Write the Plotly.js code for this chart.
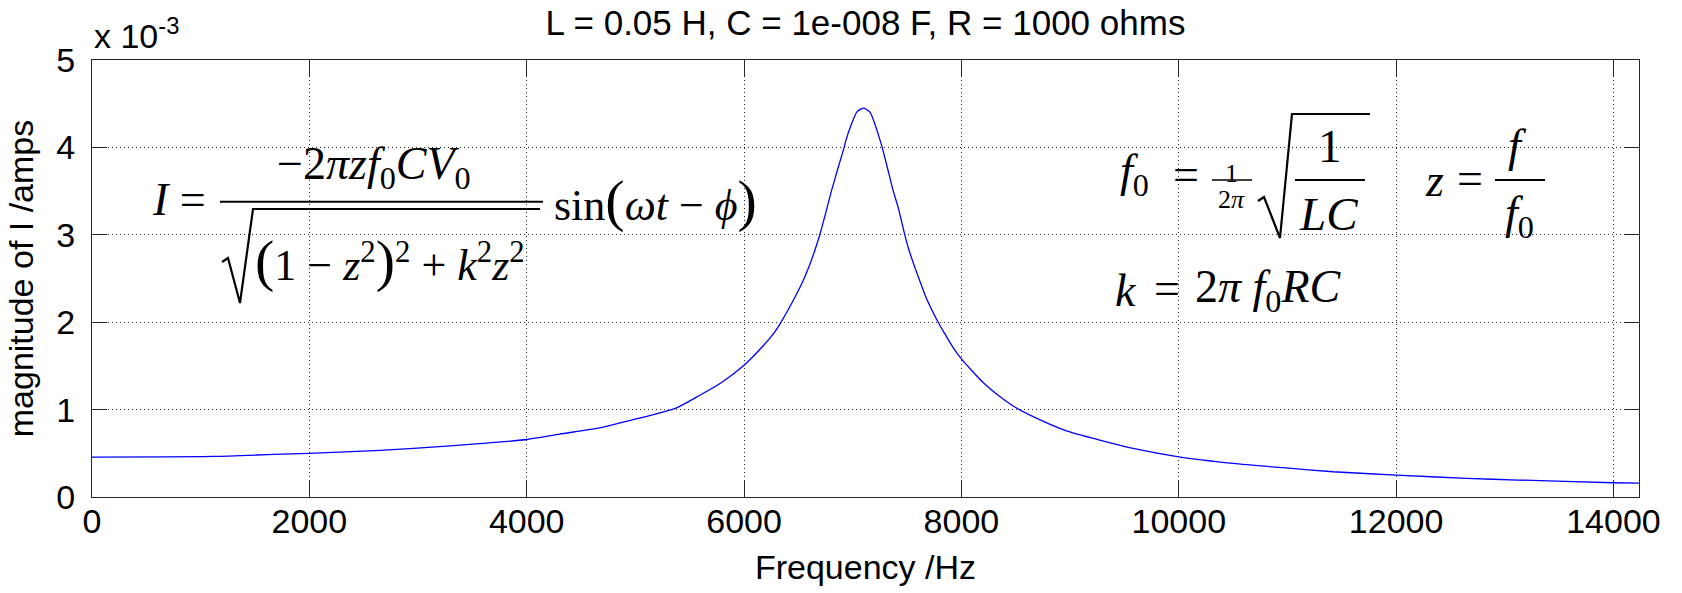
<!DOCTYPE html>
<html>
<head>
<meta charset="utf-8">
<script src="https://cdn.plot.ly/plotly-3.0.1.min.js"></script>
<style>
html,body{margin:0;padding:0;background:#fff;}
#chart{width:1682px;height:593px;}
</style>
</head>
<body>
<div id="chart"></div>
<script>
// ---- data ----
const frequencyHz = [0, 1116, 1668, 2000, 2650, 3263, 4000, 4305, 4673, 4834,
  5361, 5593, 5793, 6000, 6176, 6283, 6345, 6474, 6538, 6599,
  6651, 6697, 6765, 6805, 6857, 6921, 6936, 6989, 7040, 7100,
  7160, 7203, 7252, 7271, 7326, 7372, 7418, 7479, 7519, 7571,
  7627, 7679, 7777, 7841, 7924, 8000, 8200, 8353, 8491, 8660,
  8967, 9273, 9580, 10000, 10500, 10960, 11420, 12000, 12647, 13122,
  14000, 14235];
// magnitude of I, in units of 10^-3 A (axis multiplier "x 10^-3")
const currentE3 = [0.457, 0.464, 0.487, 0.499, 0.533, 0.582, 0.658, 0.72, 0.791, 0.84,
  1.01, 1.164, 1.31, 1.507, 1.73, 1.89, 2.01, 2.30, 2.46, 2.64,
  2.82, 3.00, 3.314, 3.505, 3.733, 4.00, 4.075, 4.27, 4.41, 4.45,
  4.40, 4.27, 4.08, 4.00, 3.733, 3.505, 3.314, 3.00, 2.82, 2.63,
  2.44, 2.27, 2.02, 1.88, 1.71, 1.58, 1.31, 1.15, 1.03, 0.92,
  0.757, 0.651, 0.556, 0.46, 0.385, 0.335, 0.289, 0.251, 0.213, 0.194,
  0.163, 0.158];
const xTickVals = [0, 2000, 4000, 6000, 8000, 10000, 12000, 14000];
const xTickText = ['0', '2000', '4000', '6000', '8000', '10000', '12000', '14000'];
const yTickVals = [0, 1, 2, 3, 4, 5];
const yTickText = ['0', '1', '2', '3', '4', '5'];
const xRange = [0, 14235];
const yRange = [0, 5];
const chartTitle = 'L = 0.05 H, C = 1e-008 F, R = 1000 ohms';
const xLabel = 'Frequency /Hz';
const yLabel = 'magnitude of I /amps';
const yMultiplier = 'x 10<sup>-3</sup>';

// ---- layout helpers ----
const W = 1682, H = 593;
const M = {l: 92, r: 43, t: 60, b: 96};
const PW = W - M.l - M.r;
const PH = H - M.t - M.b;
const X = px => (px - M.l) / PW;
const Y = py => (H - M.b - py) / PH;
const SERIF = 'Liberation Serif, Times New Roman, serif';
const SANS = 'Liberation Sans, Arial, Helvetica, sans-serif';
const AX = '#262626';

function txt(text, x, baseline, size, anchor, family) {
  return {text: text, xref: 'paper', yref: 'paper', x: X(x), y: Y(baseline - 0.34 * size),
    xanchor: anchor || 'left', yanchor: 'middle', showarrow: false,
    font: {family: family || SERIF, size: size, color: '#000'}};
}
function seg(x0, y0, x1, y1, w) {
  return {type: 'line', xref: 'paper', yref: 'paper', x0: X(x0), y0: Y(y0), x1: X(x1), y1: Y(y1),
    line: {color: '#000', width: w || 2}};
}
function poly(pts, w) {
  const d = pts.map((p, i) => (i ? 'L' : 'M') + X(p[0]) + ',' + Y(p[1])).join(' ');
  return {type: 'path', xref: 'paper', yref: 'paper', path: d, line: {color: '#000', width: w || 2}};
}

const BIG = '<span style="font-size:58px">';

const annotations = [
  txt(yMultiplier, 92, 45, 34, 'left', SANS),
  // main current equation
  txt('<i>I</i> =', 150, 215, 46, 'left'),
  txt('−2<i>πzf</i><sub>0</sub><i>CV</i><sub>0</sub>', 374, 183, 46, 'center'),
  txt(BIG + '(</span>1 − <i>z</i><sup>2</sup>' + BIG + ')</span><sup>2</sup> + <i>k</i><sup>2</sup><i>z</i><sup>2</sup>', 390, 275, 44, 'center'),
  txt('sin' + BIG + '(</span><i>ωt</i> − <i>ϕ</i>' + BIG + ')</span>', 552, 215, 44, 'left'),
  // f0 definition
  txt('<i>f</i><sub>0</sub>', 1118, 190, 46, 'left'),
  txt('=', 1186, 190, 46, 'center'),
  txt('1', 1231, 182, 26, 'center'),
  txt('2<i>π</i>', 1231, 208, 26, 'center'),
  txt('1', 1330, 162, 47, 'center'),
  txt('<i>LC</i>', 1328, 230, 47, 'center'),
  // z definition
  txt('<i>z</i>', 1434, 196, 46, 'center'),
  txt('=', 1470, 194, 46, 'center'),
  txt('<i>f</i>', 1517, 161, 46, 'center'),
  txt('<i>f</i><sub>0</sub>', 1519, 232, 46, 'center'),
  // k definition
  txt('<i>k</i>', 1126, 306, 46, 'center'),
  txt('=', 1167, 304, 46, 'center'),
  txt('2<i>π f</i><sub>0</sub><i>RC</i>', 1193, 306, 46, 'left')
];

const shapes = [
  seg(220, 201.7, 543, 201.7, 2),
  poly([[222, 262], [228, 258], [240, 303], [253, 209], [540, 209]], 2.2),
  seg(1212, 180, 1252, 180, 1.3),
  poly([[1258, 201], [1264, 197], [1280, 238], [1292, 114], [1370, 114]], 2.2),
  seg(1295, 180, 1365, 180, 2),
  seg(1495, 180, 1545, 180, 2)
];

const trace = {
  x: frequencyHz, y: currentE3, type: 'scatter', mode: 'lines',
  line: {color: 'rgb(0,0,255)', width: 1.3, shape: 'spline', smoothing: 0.6},
  hoverinfo: 'skip', showlegend: false
};

const axisCommon = {
  ticks: 'inside', tickwidth: 1, tickcolor: AX,
  showline: true, linecolor: AX, linewidth: 1, mirror: 'allticks',
  showgrid: true, gridcolor: AX, gridwidth: 1, griddash: '1px,3px',
  zeroline: false, automargin: false,
  tickfont: {family: SANS, size: 34, color: '#000'}
};

const layout = {
  width: W, height: H,
  margin: M,
  paper_bgcolor: '#fff', plot_bgcolor: '#fff',
  showlegend: false,
  title: {text: chartTitle, font: {family: SANS, size: 35, color: '#000'},
    x: 0.5, xref: 'paper', xanchor: 'center', y: 1 - 23 / H, yref: 'container', yanchor: 'middle'},
  xaxis: Object.assign({}, axisCommon, {
    range: xRange, tickmode: 'array', tickvals: xTickVals, ticktext: xTickText,
    ticklen: 16, ticklabelstandoff: -6,
    title: {text: xLabel, font: {family: SANS, size: 34, color: '#000'}, standoff: 16}
  }),
  yaxis: Object.assign({}, axisCommon, {
    range: yRange, tickmode: 'array', tickvals: yTickVals, ticktext: yTickText,
    ticklen: 15, ticklabelstandoff: 9,
    title: {text: yLabel, font: {family: SANS, size: 34, color: '#000'}, standoff: 12}
  }),
  annotations: annotations,
  shapes: shapes
};

Plotly.newPlot('chart', [trace], layout, {displayModeBar: false, staticPlot: true});
</script>
</body>
</html>
